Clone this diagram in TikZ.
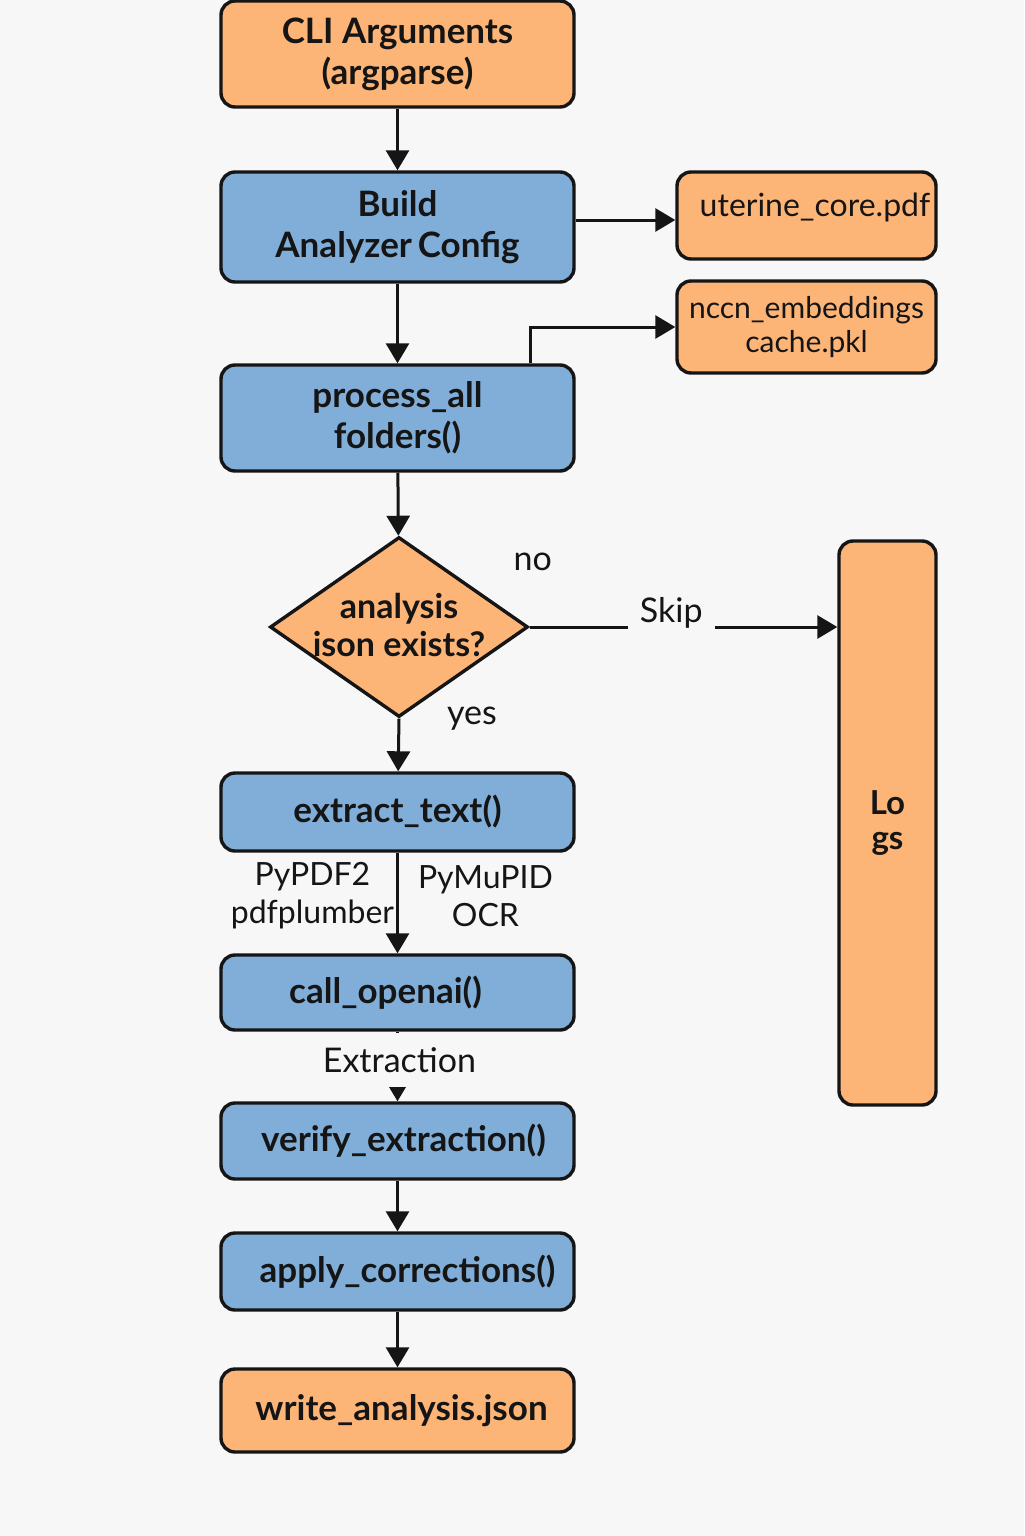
\documentclass[tikz,border=0pt]{standalone}
\usepackage{fontspec}
\setmainfont{Lato}
\usetikzlibrary{shapes.geometric,arrows.meta}
\definecolor{bg}{HTML}{F7F7F7}
\definecolor{orangef}{HTML}{FDB577}
\definecolor{bluef}{HTML}{80AED8}
\definecolor{ink}{HTML}{151515}
\begin{document}
\begin{tikzpicture}[x=0.5pt,y=-0.5pt,
  box/.style={draw=ink, line width=1.7pt, rounded corners=7pt, minimum width=176.5pt, inner sep=0pt, align=center, font=\fontsize{17.5}{20.5}\selectfont\bfseries, text=ink},
  sidebox/.style={draw=ink, line width=1.7pt, rounded corners=7pt, fill=orangef, inner sep=0pt, align=center, font=\fontsize{15}{17}\selectfont, text=ink},
  lbl/.style={font=\fontsize{17}{19}\selectfont, text=ink, align=center},
  smlbl/.style={font=\fontsize{16}{19}\selectfont, text=ink, align=center},
  arr/.style={draw=ink, line width=1.5pt, -{Triangle[length=10pt,width=11.5pt]}}]
\fill[bg] (0,0) rectangle (1024,1536);
\useasboundingbox (0,0) rectangle (1024,1536);

\node[box, fill=orangef, minimum height=53pt] (cli) at (397.5,54) {CLI Arguments\\(argparse)};
\node[box, fill=bluef, minimum height=55pt] (build) at (397.5,227) {Build\\Analyzer\,Config};
\node[box, fill=bluef, minimum height=53pt] (process) at (397.5,418) {process\_all\\folders()};
\node[draw=ink, line width=1.7pt, fill=orangef, diamond, minimum width=129pt, minimum height=90pt, inner sep=0pt,
  label={[font=\fontsize{17}{19}\selectfont\bfseries, align=center, text=ink, yshift=1pt]center:analysis\\ison exists?}] (dia) at (399,627) {};
\node[box, fill=bluef, minimum height=39pt] (extract) at (397.5,812) {extract\_text()};
\node[box, fill=bluef, minimum height=37.5pt] (call) at (397.5,992.5) {\hspace*{-12pt}call\_openai()};
\node[box, fill=bluef, minimum height=38pt] (verify) at (397.5,1141) {\hspace*{6pt}verify\_extraction()};
\node[box, fill=bluef, minimum height=38.5pt] (apply) at (397.5,1271.5) {\hspace*{10pt}apply\_corrections()};
\node[box, fill=orangef, minimum height=41.5pt] (write) at (397.5,1410.5) {\hspace*{4pt}write\_analysis.json};

\node[sidebox, minimum width=129.5pt, minimum height=43.5pt,
  label={[font=\fontsize{16}{17}\selectfont, text=ink, yshift=4pt, xshift=4.25pt]center:uterine\_core.pdf}] (uterine) at (806.5,215.5) {};
\node[sidebox, minimum width=129.5pt, minimum height=46pt] (nccn) at (806.5,327) {nccn\_embeddings\\cache.pkl};
\node[sidebox, minimum width=48.5pt, minimum height=282pt, font=\fontsize{16.5}{17.5}\selectfont\bfseries] (logs) at (887.5,823) {Lo\\gs};

\draw[arr] (cli) -- (build);
\draw[arr] (build.east |- 0,220) -- (uterine.west |- 0,220);
\draw[arr] (build) -- (process);
\draw[arr] ([xshift=66.25pt]process.north) |- (nccn.west);
\draw[arr] (process) -- (dia);
\draw[arr] (dia.east) -- (dia.east -| logs.west)
  node[pos=0, lbl, xshift=1.5pt, yshift=32.5pt] {no}
  node[pos=0.46, lbl, fill=bg, inner xsep=6pt, yshift=7pt] {Skip};
\draw[arr] (dia.south) -- (extract)
  node[pos=0, lbl, xshift=36.5pt, yshift=0pt] {yes};
\draw[arr] (extract) -- (call)
  node[midway, left, smlbl, inner sep=1pt, yshift=3.5pt] {PyPDF2\\pdfplumber}
  node[midway, right, smlbl, inner sep=0pt, xshift=9.5pt, yshift=3.5pt] {PyMuPID\\OCR};
\draw[arr] (call) -- (verify)
  node[pos=0, anchor=north, lbl, fill=bg, inner ysep=0pt, minimum height=27pt, xshift=1pt] {Extraction};
\draw[arr] (verify) -- (apply);
\draw[arr] (apply) -- (write);
\end{tikzpicture}
\end{document}
